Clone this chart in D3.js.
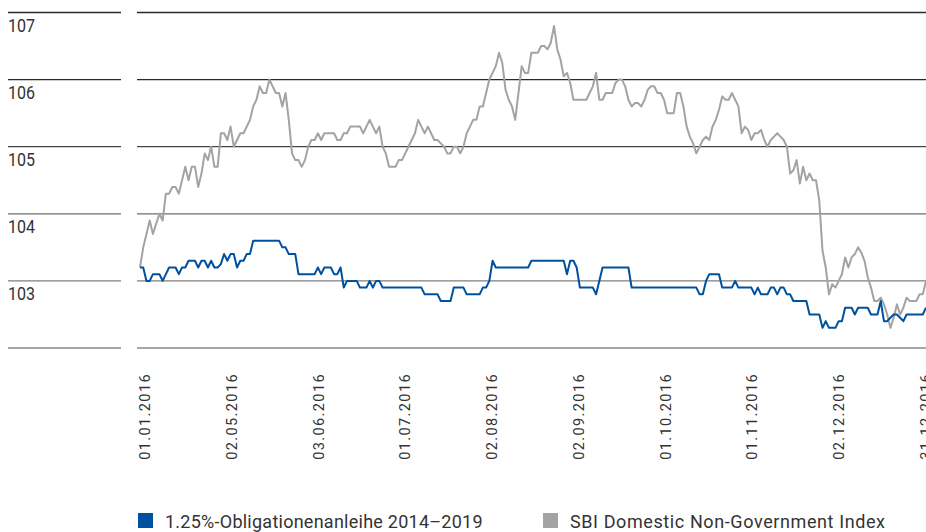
<!DOCTYPE html>
<html>
<head>
<meta charset="utf-8">
<script src="https://cdn.jsdelivr.net/npm/d3@7/dist/d3.min.js"></script>
<style>
  body { margin: 0; background: #fff; }
  svg { display: block; font-family: Roboto, "Open Sans", sans-serif; }
</style>
</head>
<body>
<svg id="chart" width="926" height="532"></svg>
<script>
// values, one per trading-day step
var bondSeries = [
  103.2, 103.2, 103.0, 103.0, 103.1, 103.1, 103.1, 103.0, 103.1, 103.2,
  103.2, 103.2, 103.1, 103.2, 103.2, 103.3, 103.3, 103.3, 103.2, 103.3,
  103.3, 103.2, 103.3, 103.2, 103.2, 103.25, 103.4, 103.3, 103.4, 103.4,
  103.2, 103.3, 103.3, 103.4, 103.4, 103.6, 103.6, 103.6, 103.6, 103.6,
  103.6, 103.6, 103.6, 103.6, 103.5, 103.5, 103.4, 103.4, 103.4, 103.1,
  103.1, 103.1, 103.1, 103.1, 103.1, 103.2, 103.1, 103.2, 103.2, 103.2,
  103.1, 103.1, 103.2, 102.9, 103.0, 103.0, 103.0, 103.0, 102.9, 102.9,
  102.9, 103.0, 102.9, 103.0, 103.0, 102.9, 102.9, 102.9, 102.9, 102.9,
  102.9, 102.9, 102.9, 102.9, 102.9, 102.9, 102.9, 102.9, 102.8, 102.8,
  102.8, 102.8, 102.8, 102.7, 102.7, 102.7, 102.7, 102.9, 102.9, 102.9,
  102.9, 102.8, 102.8, 102.8, 102.8, 102.8, 102.9, 102.9, 103.0, 103.3,
  103.2, 103.2, 103.2, 103.2, 103.2, 103.2, 103.2, 103.2, 103.2, 103.2,
  103.2, 103.3, 103.3, 103.3, 103.3, 103.3, 103.3, 103.3, 103.3, 103.3,
  103.3, 103.3, 103.1, 103.3, 103.3, 103.2, 102.9, 102.9, 102.9, 102.9,
  102.9, 102.8, 103.0, 103.2, 103.2, 103.2, 103.2, 103.2, 103.2, 103.2,
  103.2, 103.2, 102.9, 102.9, 102.9, 102.9, 102.9, 102.9, 102.9, 102.9,
  102.9, 102.9, 102.9, 102.9, 102.9, 102.9, 102.9, 102.9, 102.9, 102.9,
  102.9, 102.9, 102.9, 102.8, 102.8, 103.0, 103.1, 103.1, 103.1, 103.1,
  102.9, 102.9, 102.9, 102.9, 103.0, 102.9, 102.9, 102.9, 102.9, 102.9,
  102.8, 102.9, 102.8, 102.8, 102.8, 102.9, 102.9, 102.8, 102.9, 102.9,
  102.8, 102.8, 102.7, 102.7, 102.7, 102.7, 102.7, 102.5, 102.5, 102.5,
  102.5, 102.3, 102.4, 102.3, 102.3, 102.3, 102.4, 102.4, 102.6, 102.6,
  102.6, 102.5, 102.6, 102.6, 102.6, 102.6, 102.5, 102.5, 102.5, 102.7,
  102.4, 102.4, 102.45, 102.5, 102.5, 102.45, 102.4, 102.5, 102.5, 102.5,
  102.5, 102.5, 102.5, 102.6
];

var indexSeries = [
  103.2, 103.5, 103.7, 103.9, 103.7, 103.85, 104.0, 103.9, 104.3, 104.3,
  104.4, 104.4, 104.3, 104.5, 104.7, 104.5, 104.7, 104.7, 104.4, 104.6,
  104.9, 104.8, 105.0, 104.7, 104.7, 105.2, 105.2, 105.1, 105.3, 105.0,
  105.1, 105.2, 105.2, 105.3, 105.4, 105.6, 105.7, 105.9, 105.8, 105.8,
  106.0, 105.9, 105.8, 105.8, 105.6, 105.8, 105.4, 104.9, 104.8, 104.8,
  104.7, 104.8, 105.0, 105.1, 105.1, 105.2, 105.1, 105.2, 105.2, 105.2,
  105.2, 105.1, 105.1, 105.2, 105.2, 105.3, 105.3, 105.3, 105.3, 105.2,
  105.3, 105.4, 105.3, 105.2, 105.3, 105.0, 104.9, 104.7, 104.7, 104.7,
  104.8, 104.8, 104.9, 105.0, 105.1, 105.2, 105.4, 105.3, 105.2, 105.3,
  105.2, 105.1, 105.1, 105.05, 105.0, 104.9, 104.9, 105.0, 105.0, 104.9,
  105.0, 105.2, 105.3, 105.4, 105.4, 105.6, 105.6, 105.8, 106.0, 106.1,
  106.2, 106.4, 106.25, 105.85, 105.7, 105.6, 105.4, 105.8, 106.2, 106.1,
  106.1, 106.4, 106.4, 106.4, 106.5, 106.5, 106.45, 106.55, 106.8, 106.45,
  106.3, 106.05, 106.1, 105.95, 105.7, 105.7, 105.7, 105.7, 105.7, 105.8,
  105.9, 106.1, 105.7, 105.7, 105.8, 105.8, 105.8, 105.95, 106.0, 106.0,
  105.9, 105.7, 105.6, 105.65, 105.65, 105.6, 105.7, 105.85, 105.9, 105.9,
  105.8, 105.8, 105.7, 105.5, 105.5, 105.5, 105.8, 105.8, 105.6, 105.3,
  105.15, 105.05, 104.9, 105.0, 105.1, 105.15, 105.1, 105.3, 105.4, 105.55,
  105.75, 105.7, 105.7, 105.8, 105.7, 105.6, 105.2, 105.3, 105.25, 105.1,
  105.2, 105.2, 105.25, 105.1, 105.0, 105.1, 105.15, 105.2, 105.15, 105.1,
  105.0, 104.6, 104.65, 104.8, 104.45, 104.7, 104.5, 104.6, 104.5, 104.5,
  104.2, 103.45, 103.2, 102.8, 102.95, 102.9, 103.0, 103.1, 103.35, 103.2,
  103.35, 103.4, 103.5, 103.42, 103.3, 103.05, 102.9, 102.7, 102.7, 102.75,
  102.65, 102.5, 102.3, 102.45, 102.65, 102.5, 102.6, 102.75, 102.7, 102.7,
  102.7, 102.8, 102.8, 103.0
];

var xTickLabels = ['01.01.2016', '02.05.2016', '03.06.2016', '01.07.2016', '02.08.2016',
  '02.09.2016', '01.10.2016', '01.11.2016', '02.12.2016', '31.12.2016'];
var yTicks = [107, 106, 105, 104, 103, 102];
var seriesNames = ['1.25%-Obligationenanleihe 2014\u20132019', 'SBI Domestic Non-Government Index'];

var BLUE = '#0050a0';
var GREY = '#a3a3a3';
// gridlines get lighter towards the bottom
var gridColors = ['#2a2a2a', '#2a2a2a', '#444', '#6e6e6e', '#7e7e7e', '#8a8a8a'];

var svg = d3.select('#chart');
var n = bondSeries.length;

var x = d3.scaleLinear().domain([0, n - 1]).range([140, 926]);
var y = d3.scaleLinear().domain([102, 107]).range([348, 12.5]);
// labels sit evenly spaced, the last one runs off the right edge like the original
var xLabel = d3.scalePoint().domain(xTickLabels).range([150, 931]);

// horizontal rules: short one under each y label, long one across the plot
var grid = svg.append('g').attr('class', 'grid');
yTicks.forEach(function(v, i) {
  grid.append('line')
    .attr('x1', 8).attr('x2', 121)
    .attr('y1', y(v)).attr('y2', y(v))
    .style('stroke', gridColors[i]).style('stroke-width', 1.3);
  grid.append('line')
    .attr('x1', 137).attr('x2', 926)
    .attr('y1', y(v)).attr('y2', y(v))
    .style('stroke', gridColors[i]).style('stroke-width', 1.3);
});

svg.append('g').selectAll('text')
  .data(yTicks.slice(0, 5))
  .enter().append('text')
  .attr('x', 8)
  .attr('y', function(d) { return y(d) + 19.5; })
  .attr('textLength', 27)
  .attr('lengthAdjust', 'spacingAndGlyphs')
  .style('font-size', '19px')
  .style('fill', '#333')
  .text(function(d) { return d; });

// x labels, rotated
svg.append('g').selectAll('text')
  .data(xTickLabels)
  .enter().append('text')
  .attr('transform', function(d) {
    return 'translate(' + xLabel(d) + ',373) rotate(-90)';
  })
  .attr('text-anchor', 'end')
  .style('font-size', '14.5px')
  .style('letter-spacing', '1.4px')
  .style('fill', '#333')
  .text(function(d) { return d; });

var line = d3.line()
  .x(function(d, i) { return x(i); })
  .y(function(d) { return y(d); });

svg.append('path')
  .datum(indexSeries)
  .attr('d', line)
  .style('fill', 'none')
  .style('stroke', GREY)
  .style('stroke-width', 2)
  .style('stroke-linejoin', 'round');

svg.append('path')
  .datum(bondSeries)
  .attr('d', line)
  .style('fill', 'none')
  .style('stroke', BLUE)
  .style('stroke-width', 2)
  .style('stroke-linejoin', 'round');

// legend
var legend = svg.append('g').attr('class', 'legend');
var legendX = [138, 543];
var legendColors = [BLUE, GREY];
var legendSpacing = ['0.25px', '0.6px'];
seriesNames.forEach(function(name, i) {
  legend.append('rect')
    .attr('x', legendX[i]).attr('y', 513)
    .attr('width', 15).attr('height', 15)
    .style('fill', legendColors[i]);
  legend.append('text')
    .attr('x', legendX[i] + 27).attr('y', 528)
    .style('font-size', '18px')
    .style('letter-spacing', legendSpacing[i])
    .style('fill', '#333')
    .text(name);
});
</script>
</body>
</html>
